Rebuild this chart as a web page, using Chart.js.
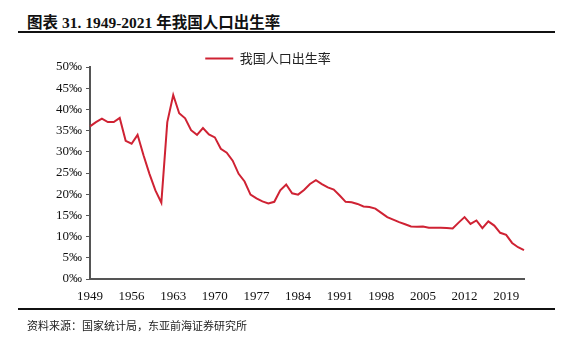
<!DOCTYPE html>
<html>
<head>
<meta charset="utf-8">
<script src="https://cdn.jsdelivr.net/npm/chart.js@4.4.0/dist/chart.umd.min.js"></script>
<style>
  body { margin: 0; background: #fff; }
  #wrap { position: relative; width: 573px; height: 338px; overflow: hidden; }
  #title {
    position: absolute; left: 27px; top: 10px;
    font: bold 15.5px "Liberation Serif", "Noto Sans CJK SC", serif;
    color: #111; white-space: nowrap;
  }
  .rule { position: absolute; left: 18px; width: 537px; height: 2px; background: #111; }
  #source {
    position: absolute; left: 27px; top: 317px;
    font: 11px "Noto Sans CJK SC", sans-serif; color: #222; white-space: nowrap;
  }
  #box { position: absolute; left: 0; top: 0; width: 573px; height: 338px; }
</style>
</head>
<body>
<div id="wrap">
  <div id="title">图表 31. 1949-2021 年我国人口出生率</div>
  <div class="rule" style="top:31px"></div>
  <div id="box"><canvas id="canvas"></canvas></div>
  <div class="rule" style="top:308px"></div>
  <div id="source">资料来源：国家统计局，东亚前海证券研究所</div>
</div>
<script>
// 年份 1949-2022
var years = [];
for (var y = 1949; y <= 2022; y++) years.push(String(y));

// 出生率 ‰
var birthRate = [
  36.0, 37.0, 37.8, 37.0, 37.0, 38.0, 32.6, 31.9, 34.0, 29.2,
  24.8, 20.9, 18.0, 37.0, 43.4, 39.1, 37.9, 35.1, 34.0, 35.6,
  34.1, 33.4, 30.7, 29.8, 27.9, 24.8, 23.0, 19.9, 19.0, 18.3,
  17.8, 18.2, 20.9, 22.3, 20.2, 19.9, 21.0, 22.4, 23.3, 22.4,
  21.6, 21.1, 19.7, 18.2, 18.1, 17.7, 17.1, 17.0, 16.6, 15.6,
  14.6, 14.0, 13.4, 12.9, 12.4, 12.3, 12.4, 12.1, 12.1, 12.1,
  12.0, 11.9, 13.3, 14.6, 13.0, 13.8, 12.0, 13.6, 12.6, 10.9,
  10.4, 8.5, 7.5, 6.8
];

var yTicks = [0, 5, 10, 15, 20, 25, 30, 35, 40, 45, 50];
var labelEvery = 7;

var tickFont = { family: '"Liberation Serif", "Times New Roman", serif', size: 13 };

// 图例往下挪一点，不影响绘图区
var legendShift = {
    id: 'legendShift',
    afterLayout: function(chart) {
        var lg = chart.legend;
        lg.top += 8; lg.bottom += 8;
        lg.left += 6; lg.right += 6;
    }
};

var ctx = document.getElementById('canvas').getContext('2d');
var chart = new Chart(ctx, {
    type: 'line',
    data: {
        labels: years,
        datasets: [{
            label: '我国人口出生率',
            data: birthRate,
            borderColor: '#CF2233',
            backgroundColor: '#CF2233',
            borderWidth: 2,
            pointRadius: 0,
            tension: 0
        }]
    },
    plugins: [legendShift],
    options: {
        responsive: true,
        maintainAspectRatio: false,
        animation: false,
        layout: { padding: { top: 38, right: 49, bottom: 29, left: 0 } },
        plugins: {
            tooltip: { enabled: false },
            legend: {
                display: true,
                position: 'top',
                labels: {
                    usePointStyle: true,
                    pointStyle: 'line',
                    pointStyleWidth: 28,
                    color: '#222',
                    font: { family: '"Noto Sans CJK SC", sans-serif', size: 13 },
                    padding: 6
                }
            }
        },
        scales: {
            x: {
                type: 'category',
                offset: false,
                grid: { display: false, drawTicks: false },
                border: { display: true, color: '#555', width: 2 },
                ticks: {
                    autoSkip: false,
                    maxRotation: 0,
                    color: '#111',
                    font: tickFont,
                    padding: 10,
                    callback: function(val, i) {
                        return i % labelEvery === 0 ? years[i] : '';
                    }
                },
                afterFit: function(s) { s.height = 30; }
            },
            y: {
                min: 0,
                max: 50,
                afterBuildTicks: function(s) {
                    s.ticks = yTicks.map(function(v) { return { value: v }; });
                },
                grid: { drawOnChartArea: false, drawTicks: true, tickLength: 4, color: '#555' },
                border: { display: true, color: '#555', width: 2 },
                ticks: {
                    color: '#111',
                    font: tickFont,
                    padding: 4,
                    callback: function(v) { return v + '‰'; }
                },
                afterFit: function(s) { s.width = 90; }
            }
        }
    }
});
</script>
</body>
</html>
